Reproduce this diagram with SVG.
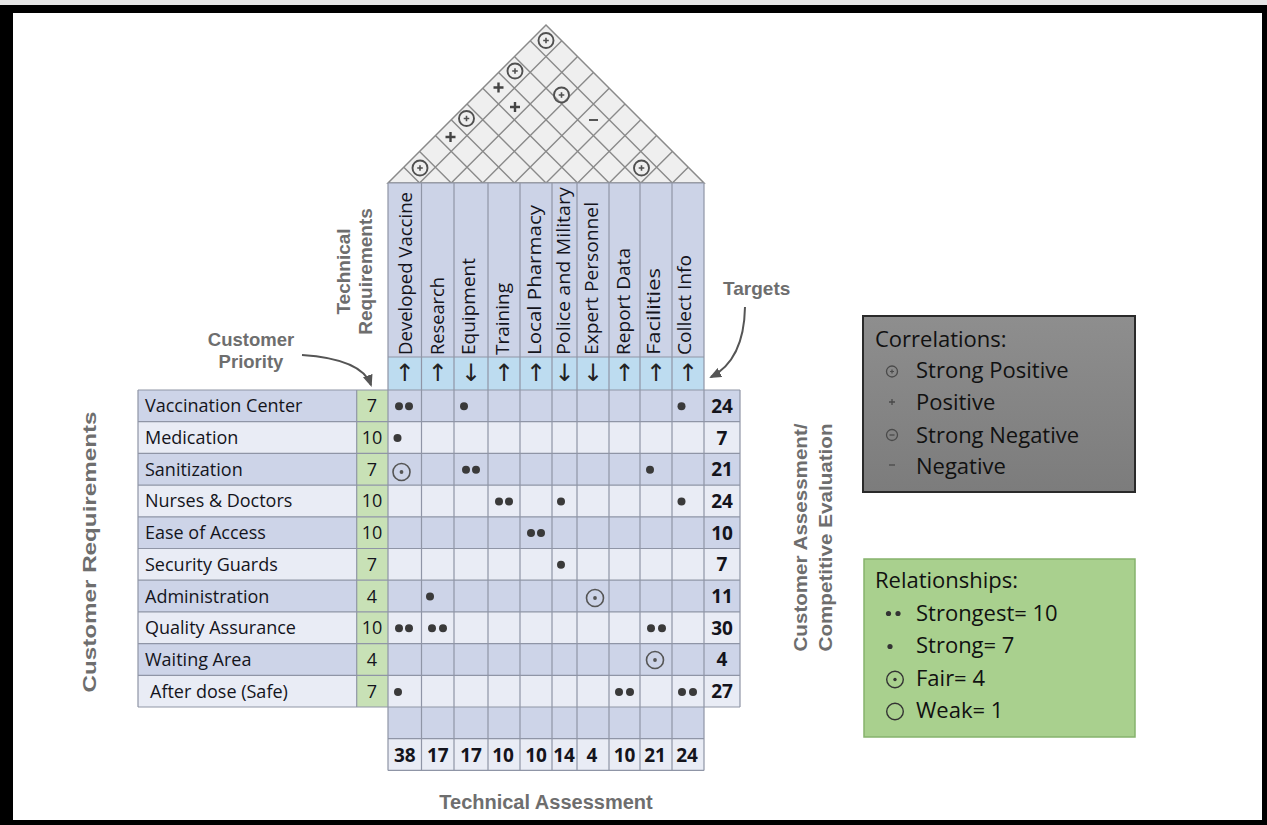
<svg xmlns="http://www.w3.org/2000/svg" width="1267" height="825" viewBox="0 0 1267 825">
<defs>
<style>
.cd{fill:#cdd4e8}
.cl{fill:#e9ecf5}
.prio{fill:#c8e1b6}
.hdrcell{fill:#ccd3e7}
.arrcell{fill:#bddcf0}
.grid{stroke:#8f95a6;stroke-width:1.2;fill:none}
.roofline{stroke:#8a8a8a;stroke-width:1.4;fill:none}
.t{font-family:"Open Sans","Liberation Sans",sans-serif;fill:#14141c}
.rl{font-size:18px}
.num{font-size:18px;text-anchor:middle}
.bnum{font-size:19px;font-weight:bold;text-anchor:middle}
.hdr{font-size:18px}
.lbl{font-family:"Liberation Sans",Arial,sans-serif;font-weight:bold;font-size:19px;fill:#6e6e6e}
.dot{fill:#3a3a3a}
.fair{fill:none;stroke:#555;stroke-width:1.6}
.sym{fill:none;stroke:#505050;stroke-width:1.9}
.lsym{fill:none;stroke:#4a4a4a;stroke-width:1.3}
.leg{font-family:"Open Sans","Liberation Sans",sans-serif;font-size:22px;fill:#111}
.arr{font-family:"DejaVu Sans",sans-serif;font-size:24px;text-anchor:middle;fill:#222}
.conn{fill:none;stroke:#555;stroke-width:2}
</style>
<linearGradient id="gray" x1="0" y1="0" x2="0" y2="1">
<stop offset="0" stop-color="#8e8e8e"/>
<stop offset="1" stop-color="#7c7c7c"/>
</linearGradient>
<marker id="ah" markerWidth="12" markerHeight="10" refX="10" refY="5" orient="auto" markerUnits="userSpaceOnUse"><path d="M0,0 L12,5 L0,10 Z" fill="#555"/></marker>
<g id="sp"><circle r="7.5" class="sym"/><path d="M-2.8,0 H2.8 M0,-2.8 V2.8" stroke="#505050" stroke-width="1.6"/></g>
<g id="plus"><path d="M-5,0 H5 M0,-5 V5" stroke="#444" stroke-width="2.4"/></g>
<g id="fairsym"><circle r="8.5" class="fair"/><circle r="1.9" fill="#555"/></g>
</defs>

<rect width="1267" height="825" fill="#ffffff"/>
<g id="frame">
<rect x="0" y="0" width="1267" height="5" fill="#e6e6e6"/>
<path d="M0,5 H1267 V825 H0 Z M13,13 V820 H1262 V13 Z" fill="#000" fill-rule="evenodd"/>
</g>

<!-- Roof -->
<g id="roof">
<polygon points="388,183 546,25 704,183" fill="#efefef" stroke="#8a8a8a" stroke-width="1.5"/>
<path class="roofline" d="M419.6,183 L403.8,167.2 M419.6,183 L561.8,40.8
M451.2,183 L419.6,151.4 M451.2,183 L577.6,56.6
M482.8,183 L435.4,135.6 M482.8,183 L593.4,72.4
M514.4,183 L451.2,119.8 M514.4,183 L609.2,88.2
M546,183 L467,104 M546,183 L625,104
M577.6,183 L482.8,88.2 M577.6,183 L640.8,119.8
M609.2,183 L498.6,72.4 M609.2,183 L656.6,135.6
M640.8,183 L514.4,56.6 M640.8,183 L672.4,151.4
M672.4,183 L530.2,40.8 M672.4,183 L688.2,167.2"/>
<use href="#sp" x="546" y="40.5"/>
<use href="#sp" x="515" y="71"/>
<use href="#plus" x="498.5" y="87.5"/>
<use href="#sp" x="561.5" y="95"/>
<use href="#plus" x="515" y="107"/>
<use href="#sp" x="466.5" y="118.5"/>
<use href="#plus" x="450.5" y="137"/>
<path d="M589,120 H598" stroke="#555" stroke-width="2"/>
<use href="#sp" x="420" y="168"/>
<use href="#sp" x="641.5" y="168"/>
</g>

<!-- Technical requirement columns -->
<g id="technical-requirements">
<rect class="hdrcell" x="388" y="183" width="316" height="174"/>
<rect class="arrcell" x="388" y="357" width="316" height="33"/>
<g id="col-developed-vaccine"><text class="t hdr" transform="translate(411.5,355) rotate(-90)" textLength="163" lengthAdjust="spacingAndGlyphs">Developed Vaccine</text><text class="arr" x="404.75" y="381">↑</text></g>
<g id="col-research"><text class="t hdr" transform="translate(443.5,355) rotate(-90)" textLength="78" lengthAdjust="spacingAndGlyphs">Research</text><text class="arr" x="437.75" y="381">↑</text></g>
<g id="col-equipment"><text class="t hdr" transform="translate(475,355) rotate(-90)" textLength="97" lengthAdjust="spacingAndGlyphs">Equipment</text><text class="arr" x="471" y="381">↓</text></g>
<g id="col-training"><text class="t hdr" transform="translate(508.5,355) rotate(-90)" textLength="72" lengthAdjust="spacingAndGlyphs">Training</text><text class="arr" x="504" y="381">↑</text></g>
<g id="col-local-pharmacy"><text class="t hdr" transform="translate(541,355) rotate(-90)" textLength="150" lengthAdjust="spacingAndGlyphs">Local Pharmacy</text><text class="arr" x="536" y="381">↑</text></g>
<g id="col-police-military"><text class="t hdr" transform="translate(569.5,355) rotate(-90)" textLength="168" lengthAdjust="spacingAndGlyphs">Police and Military</text><text class="arr" x="564.5" y="381">↓</text></g>
<g id="col-expert-personnel"><text class="t hdr" transform="translate(598,355) rotate(-90)" textLength="153" lengthAdjust="spacingAndGlyphs">Expert Personnel</text><text class="arr" x="593" y="381">↓</text></g>
<g id="col-report-data"><text class="t hdr" transform="translate(629.5,355) rotate(-90)" textLength="107" lengthAdjust="spacingAndGlyphs">Report Data</text><text class="arr" x="624.5" y="381">↑</text></g>
<g id="col-facilities"><text class="t hdr" transform="translate(659.5,355) rotate(-90)" textLength="87" lengthAdjust="spacingAndGlyphs">Facilities</text><text class="arr" x="656" y="381">↑</text></g>
<g id="col-collect-info"><text class="t hdr" transform="translate(691,355) rotate(-90)" textLength="100" lengthAdjust="spacingAndGlyphs">Collect Info</text><text class="arr" x="688" y="381">↑</text></g>
</g>

<!-- Customer requirement rows -->
<g id="customer-requirements">
<g id="row-vaccination-center">
<rect class="cd" x="138" y="390" width="218.7" height="31.7"/><rect class="prio" x="356.7" y="390" width="31.3" height="31.7"/><rect class="cd" x="388" y="390" width="352" height="31.7"/>
<text class="t rl" x="145" y="412.3">Vaccination Center</text><text class="t num" x="372" y="412.3">7</text><text class="t bnum" x="722" y="412.8">24</text>
<circle class="dot" cx="399" cy="406.3" r="4"/><circle class="dot" cx="409" cy="406.3" r="4"/><circle class="dot" cx="464" cy="406.3" r="4"/><circle class="dot" cx="681.5" cy="406.3" r="4"/>
</g>
<g id="row-medication">
<rect class="cl" x="138" y="421.7" width="218.7" height="31.7"/><rect class="prio" x="356.7" y="421.7" width="31.3" height="31.7"/><rect class="cl" x="388" y="421.7" width="352" height="31.7"/>
<text class="t rl" x="145" y="444">Medication</text><text class="t num" x="372" y="444">10</text><text class="t bnum" x="722" y="444.5">7</text>
<circle class="dot" cx="397.5" cy="438" r="4"/>
</g>
<g id="row-sanitization">
<rect class="cd" x="138" y="453.4" width="218.7" height="31.7"/><rect class="prio" x="356.7" y="453.4" width="31.3" height="31.7"/><rect class="cd" x="388" y="453.4" width="352" height="31.7"/>
<text class="t rl" x="145" y="475.7">Sanitization</text><text class="t num" x="372" y="475.7">7</text><text class="t bnum" x="722" y="476.2">21</text>
<use href="#fairsym" x="401.5" y="472"/><circle class="dot" cx="466" cy="469.7" r="4"/><circle class="dot" cx="476" cy="469.7" r="4"/><circle class="dot" cx="650" cy="469.7" r="4"/>
</g>
<g id="row-nurses-doctors">
<rect class="cl" x="138" y="485.1" width="218.7" height="31.7"/><rect class="prio" x="356.7" y="485.1" width="31.3" height="31.7"/><rect class="cl" x="388" y="485.1" width="352" height="31.7"/>
<text class="t rl" x="145" y="507.4">Nurses &amp; Doctors</text><text class="t num" x="372" y="507.4">10</text><text class="t bnum" x="722" y="507.9">24</text>
<circle class="dot" cx="499" cy="501.4" r="4"/><circle class="dot" cx="509" cy="501.4" r="4"/><circle class="dot" cx="561" cy="501.4" r="4"/><circle class="dot" cx="681.5" cy="501.4" r="4"/>
</g>
<g id="row-ease-of-access">
<rect class="cd" x="138" y="516.8" width="218.7" height="31.7"/><rect class="prio" x="356.7" y="516.8" width="31.3" height="31.7"/><rect class="cd" x="388" y="516.8" width="352" height="31.7"/>
<text class="t rl" x="145" y="539.1">Ease of Access</text><text class="t num" x="372" y="539.1">10</text><text class="t bnum" x="722" y="539.6">10</text>
<circle class="dot" cx="531" cy="533.1" r="4"/><circle class="dot" cx="541" cy="533.1" r="4"/>
</g>
<g id="row-security-guards">
<rect class="cl" x="138" y="548.5" width="218.7" height="31.7"/><rect class="prio" x="356.7" y="548.5" width="31.3" height="31.7"/><rect class="cl" x="388" y="548.5" width="352" height="31.7"/>
<text class="t rl" x="145" y="570.8">Security Guards</text><text class="t num" x="372" y="570.8">7</text><text class="t bnum" x="722" y="571.3">7</text>
<circle class="dot" cx="561" cy="564.8" r="4"/>
</g>
<g id="row-administration">
<rect class="cd" x="138" y="580.2" width="218.7" height="31.7"/><rect class="prio" x="356.7" y="580.2" width="31.3" height="31.7"/><rect class="cd" x="388" y="580.2" width="352" height="31.7"/>
<text class="t rl" x="145" y="602.5">Administration</text><text class="t num" x="372" y="602.5">4</text><text class="t bnum" x="722" y="603">11</text>
<circle class="dot" cx="430" cy="596.5" r="4"/><use href="#fairsym" x="595" y="598"/>
</g>
<g id="row-quality-assurance">
<rect class="cl" x="138" y="611.9" width="218.7" height="31.7"/><rect class="prio" x="356.7" y="611.9" width="31.3" height="31.7"/><rect class="cl" x="388" y="611.9" width="352" height="31.7"/>
<text class="t rl" x="145" y="634.2">Quality Assurance</text><text class="t num" x="372" y="634.2">10</text><text class="t bnum" x="722" y="634.7">30</text>
<circle class="dot" cx="399" cy="628.2" r="4"/><circle class="dot" cx="409" cy="628.2" r="4"/><circle class="dot" cx="432" cy="628.2" r="4"/><circle class="dot" cx="443" cy="628.2" r="4"/><circle class="dot" cx="651" cy="628.2" r="4"/><circle class="dot" cx="662" cy="628.2" r="4"/>
</g>
<g id="row-waiting-area">
<rect class="cd" x="138" y="643.6" width="218.7" height="31.7"/><rect class="prio" x="356.7" y="643.6" width="31.3" height="31.7"/><rect class="cd" x="388" y="643.6" width="352" height="31.7"/>
<text class="t rl" x="145" y="665.9">Waiting Area</text><text class="t num" x="372" y="665.9">4</text><text class="t bnum" x="722" y="666.4">4</text>
<use href="#fairsym" x="655" y="660"/>
</g>
<g id="row-after-dose">
<rect class="cl" x="138" y="675.3" width="218.7" height="31.7"/><rect class="prio" x="356.7" y="675.3" width="31.3" height="31.7"/><rect class="cl" x="388" y="675.3" width="352" height="31.7"/>
<text class="t rl" x="150" y="697.6">After dose (Safe)</text><text class="t num" x="372" y="697.6">7</text><text class="t bnum" x="722" y="698.1">27</text>
<circle class="dot" cx="398" cy="692" r="4"/><circle class="dot" cx="619" cy="692" r="4"/><circle class="dot" cx="630" cy="692" r="4"/><circle class="dot" cx="682" cy="692" r="4"/><circle class="dot" cx="693" cy="692" r="4"/>
</g>
</g>

<!-- Technical assessment rows -->
<g id="technical-assessment">
<rect class="cd" x="388" y="707" width="316" height="31.7"/>
<rect class="cl" x="388" y="738.7" width="316" height="31.7"/>
<text class="t bnum" x="404.75" y="761.5">38</text>
<text class="t bnum" x="437.75" y="761.5">17</text>
<text class="t bnum" x="471" y="761.5">17</text>
<text class="t bnum" x="503" y="761.5">10</text>
<text class="t bnum" x="536" y="761.5">10</text>
<text class="t bnum" x="564" y="761.5">14</text>
<text class="t bnum" x="592" y="761.5">4</text>
<text class="t bnum" x="624.5" y="761.5">10</text>
<text class="t bnum" x="655" y="761.5">21</text>
<text class="t bnum" x="687" y="761.5">24</text>
</g>

<!-- Grid -->
<g id="grid" class="grid">
<path d="M388,183 V770.4 M421.5,183 V770.4 M454,183 V770.4 M488,183 V770.4 M520,183 V770.4 M552,183 V770.4 M577,183 V770.4 M609,183 V770.4 M640,183 V770.4 M672,183 V770.4 M704,183 V770.4 M740,390 V707 M138,390 V707 M356.7,390 V707"/>
<path d="M388,183 H704 M388,357 H704 M138,390 H740 M138,421.7 H740 M138,453.4 H740 M138,485.1 H740 M138,516.8 H740 M138,548.5 H740 M138,580.2 H740 M138,611.9 H740 M138,643.6 H740 M138,675.3 H740 M138,707 H740 M388,738.7 H704 M388,770.4 H704"/>
</g>

<!-- Labels -->
<g id="label-technical-requirements">
<text class="lbl" transform="translate(350,271.5) rotate(-90)" text-anchor="middle">Technical</text>
<text class="lbl" transform="translate(371.5,271.5) rotate(-90)" text-anchor="middle">Requirements</text>
</g>
<g id="label-customer-priority">
<text class="lbl" x="251" y="346" text-anchor="middle" style="font-size:18.5px">Customer</text>
<text class="lbl" x="251" y="368" text-anchor="middle" style="font-size:18.5px">Priority</text>
</g>
<g id="label-targets"><text class="lbl" x="756.7" y="295.3" text-anchor="middle">Targets</text></g>
<g id="label-customer-requirements"><text class="lbl" transform="translate(96,552) rotate(-90)" text-anchor="middle" textLength="281" lengthAdjust="spacingAndGlyphs">Customer Requirements</text></g>
<g id="label-customer-assessment">
<text class="lbl" transform="translate(807,537.5) rotate(-90)" text-anchor="middle" textLength="228" lengthAdjust="spacingAndGlyphs">Customer Assessment/</text>
<text class="lbl" transform="translate(832,537.5) rotate(-90)" text-anchor="middle" textLength="228" lengthAdjust="spacingAndGlyphs">Competitive Evaluation</text>
</g>
<g id="label-technical-assessment"><text class="lbl" x="546" y="809" text-anchor="middle" style="font-size:20px">Technical Assessment</text></g>

<!-- Legends -->
<g id="legend-correlations">
<rect x="863" y="316" width="272" height="176" fill="url(#gray)" stroke="#2a2a2a" stroke-width="2"/>
<text class="leg" x="875" y="347">Correlations:</text>
<circle cx="892" cy="371.5" r="5.5" class="lsym"/><path d="M890,371.5 H894 M892,369.5 V373.5" stroke="#4a4a4a" stroke-width="1.2"/>
<text class="leg" x="916" y="378">Strong Positive</text>
<path d="M889,402 H895 M892,399 V405" stroke="#4a4a4a" stroke-width="1.3"/>
<text class="leg" x="916" y="410">Positive</text>
<circle cx="892" cy="435" r="5.5" class="lsym"/><path d="M889.5,435 H894.5" stroke="#4a4a4a" stroke-width="1.3"/>
<text class="leg" x="916" y="443">Strong Negative</text>
<path d="M889,465 H895" stroke="#4a4a4a" stroke-width="1.3"/>
<text class="leg" x="916" y="474">Negative</text>
</g>
<g id="legend-relationships">
<rect x="864" y="559" width="271" height="178" fill="#a9d08e" stroke="#86b36c" stroke-width="1.5"/>
<text class="leg" x="875" y="588">Relationships:</text>
<circle cx="888.5" cy="613.5" r="2.6" fill="#333"/><circle cx="898" cy="613.5" r="2.6" fill="#333"/>
<text class="leg" x="916" y="620.5">Strongest= 10</text>
<circle cx="890" cy="646.5" r="2.6" fill="#333"/>
<text class="leg" x="916" y="653">Strong= 7</text>
<circle cx="895" cy="679.5" r="8.3" fill="none" stroke="#333" stroke-width="1.4"/><circle cx="895" cy="679.5" r="1.7" fill="#333"/>
<text class="leg" x="916" y="685.5">Fair= 4</text>
<circle cx="895" cy="711.5" r="8.3" fill="none" stroke="#333" stroke-width="1.4"/>
<text class="leg" x="916" y="718">Weak= 1</text>
</g>

<!-- Connectors -->
<g id="connectors">
<path class="conn" d="M302,355 Q362,359 371,385" marker-end="url(#ah)"/>
<path class="conn" d="M745,307 Q744,360 711,377" marker-end="url(#ah)"/>
</g>
</svg>
